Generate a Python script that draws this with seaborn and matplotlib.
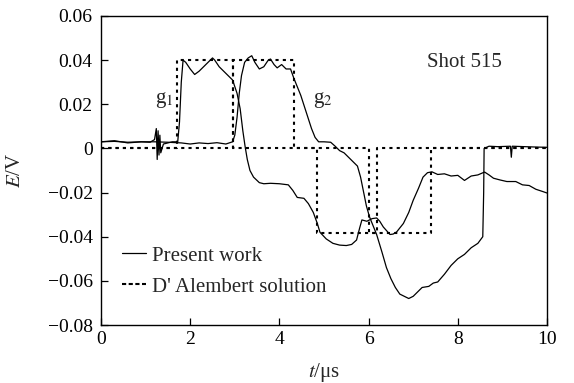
import numpy as np
import pandas as pd
import matplotlib
matplotlib.use("Agg")
import matplotlib.pyplot as plt
import seaborn as sns
from matplotlib.ticker import FuncFormatter
from matplotlib.lines import Line2D

# ---- data ----
g1_t = [0.0, 0.3, 0.6, 0.9, 1.1, 1.2, 1.24, 1.26, 1.28, 1.30, 1.32, 1.34, 1.4, 1.6, 1.72,
        1.76, 1.80, 1.84, 1.9, 2.0, 2.1, 2.2, 2.3, 2.4, 2.5, 2.55, 2.65, 2.75, 2.85, 2.95,
        3.05, 3.12, 3.18, 3.23, 3.28, 3.34, 3.42, 3.55, 3.65, 3.8, 4.0, 4.2, 4.3, 4.4, 4.55,
        4.65, 4.76, 4.85, 4.91, 5.05, 5.2, 5.35, 5.5, 5.62, 5.73, 5.8, 5.85, 5.96, 6.08, 6.18,
        6.25, 6.33, 6.48, 6.55, 6.63, 6.78, 6.9, 7.0, 7.12, 7.22, 7.32, 7.42, 7.55, 7.7,
        7.85, 8.0, 8.15, 8.3, 8.45, 8.6, 8.7, 8.8, 8.95, 9.1, 9.3, 9.45, 9.6, 9.75, 9.9, 10.0]
g1_E = [0.003, 0.0035, 0.0025, 0.003, 0.0028, 0.004, 0.009, -0.005, 0.008, -0.003, 0.006, -0.002, 0.002, 0.003, 0.003,
        0.012, 0.030, 0.040, 0.039, 0.036, 0.0335, 0.035, 0.037, 0.039, 0.041, 0.040, 0.037, 0.035, 0.033, 0.031,
        0.025, 0.018, 0.008, 0.001, -0.005, -0.010, -0.013, -0.0155, -0.016, -0.0158, -0.016, -0.0165, -0.019, -0.0222, -0.0226,
        -0.025, -0.029, -0.034, -0.038, -0.041, -0.043, -0.0438, -0.044, -0.0435, -0.0415, -0.036, -0.0324, -0.033, -0.0318, -0.0315,
        -0.033, -0.0356, -0.039, -0.0388, -0.0378, -0.034, -0.029, -0.0235, -0.018, -0.013, -0.011, -0.0106, -0.0118, -0.0115,
        -0.0125, -0.0122, -0.0145, -0.0125, -0.012, -0.0107, -0.012, -0.0135, -0.0143, -0.015, -0.015, -0.0165, -0.0168, -0.0185, -0.0195, -0.0202]

g2_t = [0.0, 0.3, 0.6, 0.9, 1.2, 1.5, 1.8, 2.0, 2.2, 2.4, 2.6, 2.8, 2.95, 3.0, 3.05, 3.1,
        3.15, 3.22, 3.3, 3.38, 3.45, 3.55, 3.65, 3.75, 3.8, 3.88, 3.95, 4.05, 4.15, 4.25,
        4.32, 4.4, 4.48, 4.56, 4.64, 4.72, 4.8, 4.88, 5.0, 5.15, 5.25, 5.35, 5.45, 5.55,
        5.65, 5.75, 5.82, 5.88, 5.95, 6.02, 6.1, 6.18, 6.3, 6.4, 6.5, 6.6, 6.7, 6.8, 6.9,
        7.0, 7.1, 7.2, 7.35, 7.45, 7.55, 7.7, 7.85, 8.0, 8.15, 8.3, 8.45, 8.56, 8.58, 8.59,
        8.7, 8.9, 9.18, 9.2, 9.22, 9.5, 9.8, 10.0]
g2_E = [0.003, 0.0032, 0.0028, 0.003, 0.003, 0.0028, 0.0025, 0.002, 0.0025, 0.0022, 0.0026, 0.002, 0.003, 0.006, 0.014, 0.025,
        0.033, 0.039, 0.041, 0.042, 0.039, 0.036, 0.037, 0.040, 0.0405, 0.038, 0.0365, 0.038, 0.036, 0.036,
        0.032, 0.028, 0.024, 0.019, 0.014, 0.009, 0.005, 0.003, 0.003, 0.0028, 0.001, -0.001, -0.002, -0.004,
        -0.006, -0.008, -0.013, -0.019, -0.026, -0.031, -0.035, -0.039, -0.047, -0.054, -0.059, -0.063, -0.066, -0.067, -0.068,
        -0.067, -0.065, -0.063, -0.0625, -0.061, -0.0605, -0.057, -0.053, -0.050, -0.048, -0.045, -0.043, -0.040, -0.020, 0.0,
        0.001, 0.0008, 0.001, -0.004, 0.001, 0.0008, 0.0006, 0.0005]

dal1_t = [0.0, 1.70, 2.97, 4.84, 6.18, 10.0]
dal1_E = [0.0, 0.040, 0.0, -0.0385, 0.0, 0.0]
dal2_t = [0.0, 2.97, 4.33, 6.00, 7.40, 10.0]
dal2_E = [0.0, 0.040, 0.0, -0.0385, 0.0, 0.0]

x_ticks = [0, 2, 4, 6, 8, 10]
y_ticks = [-0.08, -0.06, -0.04, -0.02, 0, 0.02, 0.04, 0.06]

# ---- style ----
sns.set_style("ticks")
plt.rcParams['font.family'] = ['Liberation Serif', 'DejaVu Serif']
plt.rcParams['mathtext.fontset'] = 'stix'
plt.rcParams['xtick.direction'] = 'in'
plt.rcParams['ytick.direction'] = 'in'

fig = plt.figure(figsize=(5.74, 3.83), dpi=100)
ax = fig.add_axes([101/574, 1-325/383, (547-101)/574, (325-16)/383])

df1 = pd.DataFrame({'t': g1_t, 'E': g1_E})
df2 = pd.DataFrame({'t': g2_t, 'E': g2_E})
d1 = pd.DataFrame({'t': dal1_t, 'E': dal1_E})
d2 = pd.DataFrame({'t': dal2_t, 'E': dal2_E})

sns.lineplot(data=df1, x='t', y='E', ax=ax, color='black', lw=0.9, estimator=None)
sns.lineplot(data=df2, x='t', y='E', ax=ax, color='black', lw=0.9, estimator=None)
sns.lineplot(data=d1, x='t', y='E', ax=ax, color='black', lw=1.5, estimator=None,
             drawstyle='steps-post', dashes=False, linestyle=(0, (1.5, 2)))
sns.lineplot(data=d2, x='t', y='E', ax=ax, color='black', lw=1.5, estimator=None,
             drawstyle='steps-post', dashes=False, linestyle=(0, (1.5, 2)))

ax.set_xlim(0, 10)
ax.set_ylim(-0.08, 0.06)
ax.set_xticks(x_ticks)
ax.set_yticks(y_ticks)

def yfmt(v, pos):
    if abs(v) < 1e-9:
        return "0"
    s = f"{abs(v):.2f}"
    return ("\u2212" + s) if v < 0 else s

ax.yaxis.set_major_formatter(FuncFormatter(yfmt))
ax.xaxis.set_major_formatter(FuncFormatter(lambda v, p: f"{int(round(v))}"))
ax.tick_params(axis='both', labelsize=14, length=5, width=0.9, colors='black',
               top=False, right=False)
ax.tick_params(axis='y', pad=6)
ax.tick_params(axis='x', pad=4)
for sp in ax.spines.values():
    sp.set_linewidth(1.0)
    sp.set_color('black')

ax.set_xlabel("$t$/\u03bcs", fontsize=15, labelpad=10)
ax.set_ylabel("$E$/V", fontsize=15, labelpad=16)

ax.text(7.3, 0.039, "Shot 515", fontsize=15, va='center', ha='left')
ax.text(1.2, 0.022, "g$_1$", fontsize=15, va='center', ha='left')
ax.text(4.75, 0.022, "g$_2$", fontsize=15, va='center', ha='left')

handles = [Line2D([], [], color='black', lw=0.9),
           Line2D([], [], color='black', lw=1.5, linestyle=(0, (2, 1.2)))]
ax.legend(handles, ["Present work", "D' Alembert solution"], loc='lower left',
          bbox_to_anchor=(0.005, 0.031), frameon=False, fontsize=15,
          handlelength=1.15, handletextpad=0.3, labelspacing=0.55)

fig.savefig("out.png", dpi=100)
